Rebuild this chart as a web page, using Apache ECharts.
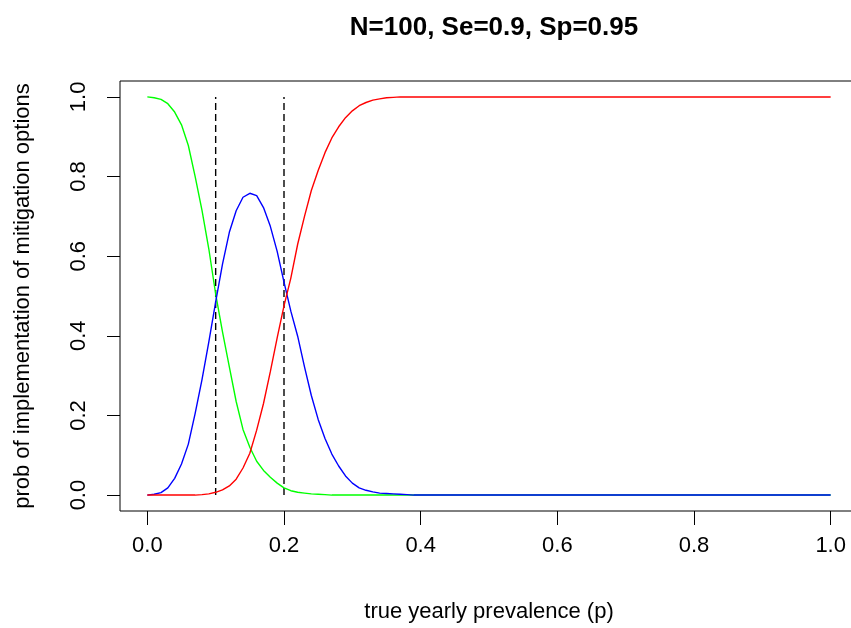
<!DOCTYPE html>
<html>
<head>
<meta charset="utf-8">
<script src="https://cdn.jsdelivr.net/npm/echarts@6/dist/echarts.min.js"></script>
<style>
  html, body { margin: 0; padding: 0; background: #fff; overflow: hidden; }
  #chart { width: 860px; height: 628px; }
</style>
</head>
<body>
<div id="chart"></div>
<script>
// prevalence grid (x)
const P = [0, 0.01, 0.02, 0.03, 0.04, 0.05, 0.06, 0.07, 0.08, 0.09,
  0.10, 0.11, 0.12, 0.13, 0.14, 0.15, 0.16, 0.17, 0.18, 0.19,
  0.20, 0.21, 0.22, 0.23, 0.24, 0.25, 0.26, 0.27, 0.28, 0.29,
  0.30, 0.31, 0.32, 0.33, 0.34, 0.35, 0.36, 0.37, 0.38, 0.39,
  0.40, 0.5, 0.6, 0.7, 0.8, 0.9, 1.0];

// green: no action
const GREEN = [1.0, 0.998, 0.994, 0.983, 0.962, 0.930, 0.878, 0.800, 0.715, 0.618,
  0.505, 0.410, 0.322, 0.235, 0.165, 0.120, 0.085, 0.062, 0.045, 0.030,
  0.018, 0.011, 0.007, 0.005, 0.003, 0.002, 0.001, 0, 0, 0,
  0, 0, 0, 0, 0, 0, 0, 0, 0, 0,
  0, 0, 0, 0, 0, 0, 0];

// blue: middle option
const BLUE = [0, 0.002, 0.006, 0.018, 0.042, 0.078, 0.128, 0.205, 0.290, 0.385,
  0.485, 0.580, 0.660, 0.714, 0.748, 0.758, 0.752, 0.722, 0.675, 0.612,
  0.535, 0.462, 0.399, 0.322, 0.250, 0.190, 0.142, 0.103, 0.073, 0.048,
  0.030, 0.018, 0.012, 0.008, 0.005, 0.004, 0.003, 0.002, 0.001, 0,
  0, 0, 0, 0, 0, 0, 0];

// red: full mitigation
const RED = [0, 0, 0, 0, 0, 0, 0, 0, 0.001, 0.003,
  0.007, 0.013, 0.023, 0.040, 0.068, 0.105, 0.163, 0.230, 0.310, 0.395,
  0.475, 0.545, 0.630, 0.700, 0.765, 0.815, 0.860, 0.897, 0.925, 0.948,
  0.965, 0.978, 0.986, 0.992, 0.995, 0.998, 0.999, 1, 1, 1,
  1, 1, 1, 1, 1, 1, 1];

// thresholds (dashed verticals)
const THRESH = [0.1, 0.2];
const V_RANGE = [0, 1];

const X_TICKS = [0, 0.2, 0.4, 0.6, 0.8, 1.0];
const Y_TICKS = [0, 0.2, 0.4, 0.6, 0.8, 1.0];

const FONT = '"Liberation Sans", Arial, sans-serif';

function curve(data, color) {
  return {
    type: 'line',
    data: P.map((p, i) => [p, data[i]]),
    showSymbol: false,
    lineStyle: { color, width: 1.4 },
    z: 3
  };
}

function vline(x) {
  return {
    type: 'line',
    data: V_RANGE.map(v => [x, v]),
    showSymbol: false,
    lineStyle: { color: '#000', width: 1.4, type: [7, 4] },
    z: 2
  };
}

const chart = echarts.init(document.getElementById('chart'), null, { renderer: 'canvas' });

chart.setOption({
  animation: false,
  title: {
    text: 'N=100, Se=0.9, Sp=0.95',
    left: 489, top: 10, textAlign: 'center',
    textStyle: { fontFamily: FONT, fontWeight: 'bold', fontSize: 26, color: '#000' }
  },
  grid: {
    left: 120, top: 81, width: 738, height: 431,
    show: true, borderColor: '#000', borderWidth: 1, backgroundColor: 'transparent'
  },
  xAxis: {
    type: 'value', min: -0.04, max: 1.04,
    name: 'true yearly prevalence (p)', nameLocation: 'middle', nameGap: 90,
    nameTextStyle: { fontFamily: FONT, fontSize: 22, color: '#000' },
    axisLine: { show: false, onZero: false },
    splitLine: { show: false },
    axisTick: { show: true, inside: false, length: 14, customValues: X_TICKS, lineStyle: { color: '#000', width: 1 } },
    axisLabel: {
      customValues: X_TICKS, margin: 24,
      formatter: v => v.toFixed(1),
      fontFamily: FONT, fontSize: 22, color: '#000'
    }
  },
  yAxis: {
    type: 'value', min: -0.04, max: 1.04,
    name: 'prob of implementation of mitigation options', nameLocation: 'middle', nameGap: 86,
    nameTextStyle: { fontFamily: FONT, fontSize: 22, color: '#000' },
    axisLine: { show: false, onZero: false },
    splitLine: { show: false },
    axisTick: { show: true, inside: false, length: 13, customValues: Y_TICKS, lineStyle: { color: '#000', width: 1 } },
    axisLabel: {
      customValues: Y_TICKS, margin: 30, rotate: 90,
      formatter: v => v.toFixed(1),
      fontFamily: FONT, fontSize: 22, color: '#000'
    }
  },
  series: [
    curve(GREEN, '#00ff00'),
    curve(BLUE, '#0000ff'),
    curve(RED, '#ff0000'),
    vline(THRESH[0]),
    vline(THRESH[1])
  ]
});
</script>
</body>
</html>
